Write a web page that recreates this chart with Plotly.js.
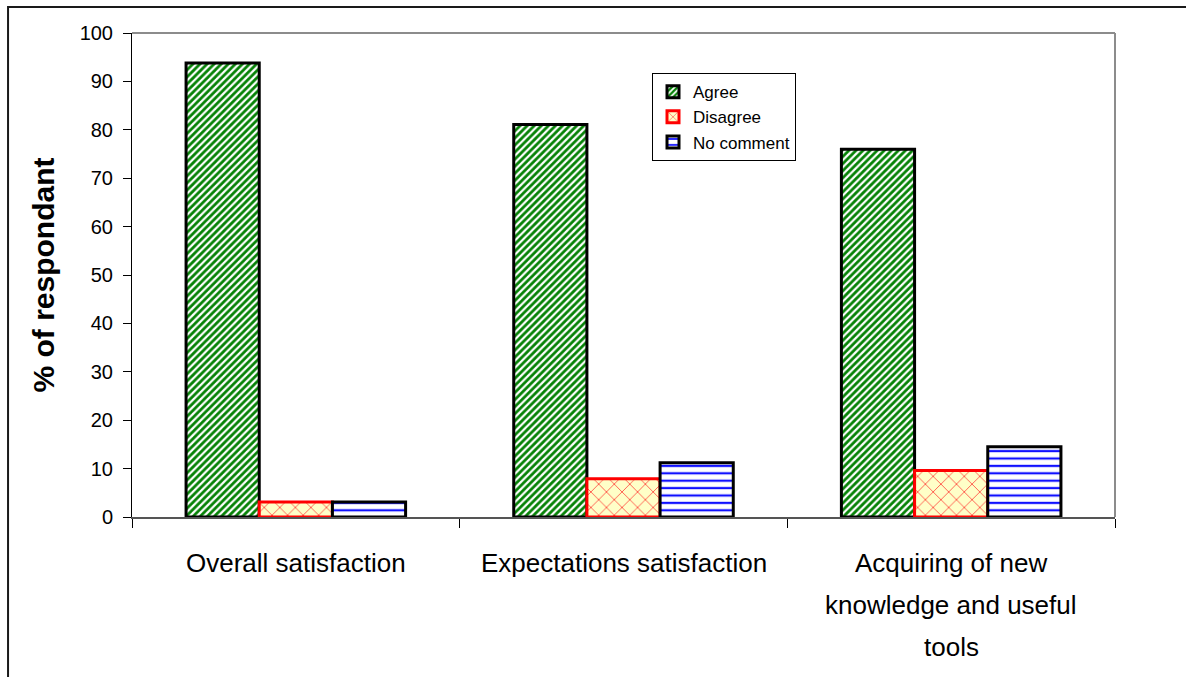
<!DOCTYPE html>
<html>
<head>
<meta charset="utf-8">
<script src="https://cdn.plot.ly/plotly-3.0.1.min.js"></script>
<style>
  html, body { margin: 0; padding: 0; background: #ffffff; }
  #chart { width: 1186px; height: 677px; }
</style>
</head>
<body>
<div id="chart"></div>
<script>
// Survey results: share of respondents per answer, by question
const categoryLines = [
  ["Overall satisfaction"],
  ["Expectations satisfaction"],
  ["Acquiring of new", "knowledge and useful", "tools"]
];
const categories = categoryLines.map(lines => lines.join(" "));
const agree     = [93.8, 81.1, 76.0];
const disagree  = [3.1, 7.9, 9.6];
const noComment = [3.1, 11.2, 14.5];
const yTickValues = [0, 10, 20, 30, 40, 50, 60, 70, 80, 90, 100];

const FONT = "Liberation Sans, Arial, sans-serif";

const traces = [
  {
    type: "bar", name: "Agree", x: categories, y: agree,
    marker: {
      color: "#ffffff",
      line: { color: "#000000", width: 3 },
      pattern: { shape: "/", fgcolor: "#068206", bgcolor: "#ffffff", size: 5, solidity: 0.55 }
    },
    hoverinfo: "skip"
  },
  {
    type: "bar", name: "Disagree", x: categories, y: disagree,
    marker: {
      color: "#ffffc8",
      line: { color: "#ff0000", width: 3 },
      pattern: { shape: "x", fgcolor: "#ff2020", bgcolor: "#ffffc8", size: 11, solidity: 0.12 }
    },
    hoverinfo: "skip"
  },
  {
    type: "bar", name: "No comment", x: categories, y: noComment,
    marker: {
      color: "#ffffff",
      line: { color: "#000000", width: 3 },
      pattern: { shape: "-", fgcolor: "#1010ff", bgcolor: "#ffffff", size: 7.4, solidity: 0.3 }
    },
    hoverinfo: "skip"
  }
];

// Category labels below the axis, one text line each so the line spacing stays wide
const categoryAnnotations = [];
categoryLines.forEach((lines, i) => {
  lines.forEach((line, j) => {
    categoryAnnotations.push({
      x: categories[i], xref: "x",
      y: 0, yref: "y",
      yshift: -(46 + 42 * j),
      xanchor: "center", yanchor: "middle",
      showarrow: false,
      text: line,
      font: { family: FONT, size: 26, color: "#000000" }
    });
  });
});

const layout = {
  width: 1186,
  height: 677,
  margin: { l: 132, r: 71, t: 33, b: 160 },
  paper_bgcolor: "#ffffff",
  plot_bgcolor: "#ffffff",
  font: { family: FONT, color: "#000000", size: 19 },
  barmode: "group",
  bargap: 0.33,
  bargroupgap: 0,
  showlegend: true,
  legend: {
    x: 0.529, y: 0.917, xanchor: "left", yanchor: "top",
    bgcolor: "#ffffff", bordercolor: "#000000", borderwidth: 1,
    font: { family: FONT, size: 17, color: "#000000" },
    itemwidth: 30, tracegroupgap: 0
  },
  xaxis: {
    type: "category",
    tickson: "boundaries",
    ticks: "outside", ticklen: 9, tickwidth: 1, tickcolor: "#000000",
    showticklabels: false,
    showline: true, linecolor: "#555555", linewidth: 2,
    showgrid: false, zeroline: false, fixedrange: true
  },
  yaxis: {
    range: [0, 100],
    tickmode: "array", tickvals: yTickValues,
    ticks: "outside", ticklen: 8, tickwidth: 1, tickcolor: "#000000",
    ticklabelstandoff: 6,
    tickfont: { family: FONT, size: 20, color: "#000000" },
    showline: true, linecolor: "#000000", linewidth: 1,
    showgrid: false, zeroline: false, fixedrange: true,
    title: {
      text: "<b>% of respondant</b>",
      font: { family: FONT, size: 30, color: "#000000" },
      standoff: 16
    }
  },
  annotations: categoryAnnotations,
  shapes: [
    // grey frame of the plotting area (top and right sides)
    { type: "line", xref: "paper", yref: "paper", x0: 0, x1: 1, y0: 1, y1: 1,
      line: { color: "#8c8c8c", width: 2 } },
    { type: "line", xref: "paper", yref: "paper", x0: 1, x1: 1, y0: 0, y1: 1,
      line: { color: "#8c8c8c", width: 2 } },
    // outer chart frame
    { type: "rect", xref: "paper", yref: "paper",
      x0: -0.1261, x1: 1.2, y0: -0.5, y1: 1.0537,
      line: { color: "#1a1a1a", width: 2 }, fillcolor: "rgba(0,0,0,0)" }
  ]
};

Plotly.newPlot("chart", traces, layout, { staticPlot: true, displayModeBar: false });
</script>
</body>
</html>
